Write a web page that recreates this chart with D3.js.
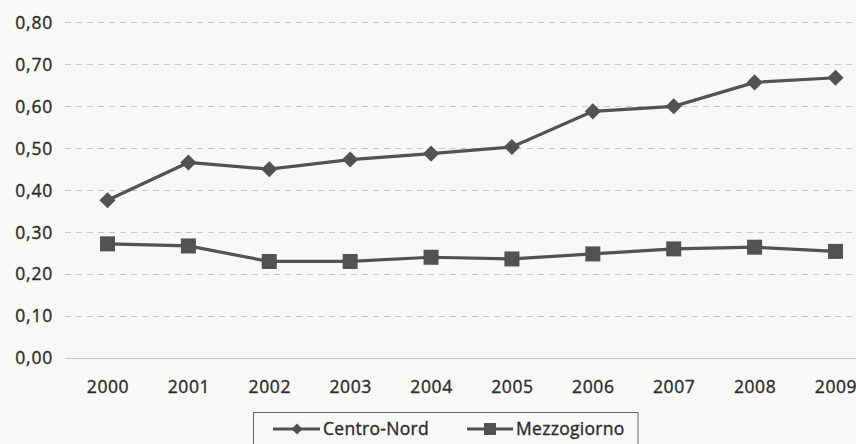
<!DOCTYPE html>
<html><head><meta charset="utf-8">
<script src="https://cdn.jsdelivr.net/npm/d3@7/dist/d3.min.js"></script>
<style>
html,body{margin:0;padding:0;background:#f8f8f7;}
svg{display:block;}
text{font-family:"Open Sans",sans-serif;fill:#2b2b2b;stroke:#2b2b2b;stroke-width:0.35px;}
</style></head><body>
<script>
const years = ["2000","2001","2002","2003","2004","2005","2006","2007","2008","2009"];
const centroNord = [0.375,0.465,0.449,0.472,0.486,0.502,0.587,0.599,0.656,0.667];
const mezzogiorno = [0.271,0.266,0.229,0.229,0.239,0.235,0.247,0.259,0.263,0.253];
const yTicks = [0,0.1,0.2,0.3,0.4,0.5,0.6,0.7,0.8];
const seriesNames = ["Centro-Nord","Mezzogiorno"];

const W=856,H=444;
const svg=d3.select("body").append("svg").attr("width",W).attr("height",H);
svg.append("rect").attr("width",W).attr("height",H).attr("fill","#f8f8f7");

const x=d3.scalePoint().domain(years).range([107.5,835.5]);
const y=d3.scaleLinear().domain([0,0.8]).range([357.5,22]);
const fmt=d3.format(".2f");
const lbl=v=>fmt(v).replace(".",",");

// gridlines
svg.append("g").selectAll("line").data(yTicks.filter(d=>d>0)).join("line")
  .attr("x1",65).attr("x2",W).attr("y1",d=>Math.round(y(d))+0.5).attr("y2",d=>Math.round(y(d))+0.5)
  .attr("stroke","#c8c8c8").attr("stroke-width",1).attr("stroke-dasharray","6,5");
svg.append("line").attr("x1",65).attr("x2",W).attr("y1",Math.round(y(0))+0.5).attr("y2",Math.round(y(0))+0.5)
  .attr("stroke","#c4c4c4").attr("stroke-width",1.2);

// y axis labels
const yAxis=d3.axisLeft(y).tickValues(yTicks).tickFormat(lbl).tickSize(0).tickPadding(0);
const gy=svg.append("g").attr("transform","translate(53,0)").call(yAxis);
gy.select(".domain").remove();
gy.selectAll("text").attr("font-size",17.5).attr("letter-spacing","0.8px").attr("fill","#2b2b2b")
  .style("font-family","'Open Sans',sans-serif").attr("dy","0.36em");

// x axis labels
const xAxis=d3.axisBottom(x).tickSize(0).tickPadding(0);
const gx=svg.append("g").attr("transform","translate(0,381)").call(xAxis);
gx.select(".domain").remove();
gx.selectAll("text").attr("font-size",17.5).attr("letter-spacing","0.6px").attr("fill","#2b2b2b")
  .style("font-family","'Open Sans',sans-serif").attr("dy","0.71em");

const col="#525252";
const line=d3.line().x((d,i)=>x(years[i])).y(d=>y(d));
svg.append("path").datum(centroNord).attr("d",line).attr("fill","none").attr("stroke",col).attr("stroke-width",3.2);
svg.append("path").datum(mezzogiorno).attr("d",line).attr("fill","none").attr("stroke",col).attr("stroke-width",3.2);

const diamond=d3.symbol().type(d3.symbolSquare).size(130);
svg.append("g").selectAll("path").data(centroNord).join("path")
  .attr("d",diamond).attr("transform",(d,i)=>`translate(${x(years[i])},${y(d)}) rotate(45)`).attr("fill",col);
svg.append("g").selectAll("rect").data(mezzogiorno).join("rect")
  .attr("x",(d,i)=>x(years[i])-7.5).attr("y",d=>y(d)-7.5).attr("width",15).attr("height",15).attr("fill",col);

// legend
const lg=svg.append("g");
lg.append("rect").attr("x",253.5).attr("y",412.5).attr("width",384.5).attr("height",40)
  .attr("fill","none").attr("stroke","#666").attr("stroke-width",1);
const ly=429;
lg.append("line").attr("x1",273).attr("x2",320).attr("y1",ly).attr("y2",ly).attr("stroke",col).attr("stroke-width",3);
lg.append("path").attr("d",d3.symbol().type(d3.symbolSquare).size(60)).attr("transform",`translate(297,${ly}) rotate(45)`).attr("fill",col);
lg.append("text").attr("x",323).attr("y",ly).attr("dy","0.36em").attr("font-size",17.5).attr("letter-spacing","0.3px").text(seriesNames[0]);
lg.append("line").attr("x1",467).attr("x2",513).attr("y1",ly).attr("y2",ly).attr("stroke",col).attr("stroke-width",3);
lg.append("rect").attr("x",484).attr("y",ly-6).attr("width",12).attr("height",12).attr("fill",col);
lg.append("text").attr("x",516).attr("y",ly).attr("dy","0.36em").attr("font-size",17.5).attr("letter-spacing","0.3px").text(seriesNames[1]);
</script>
</body></html>
